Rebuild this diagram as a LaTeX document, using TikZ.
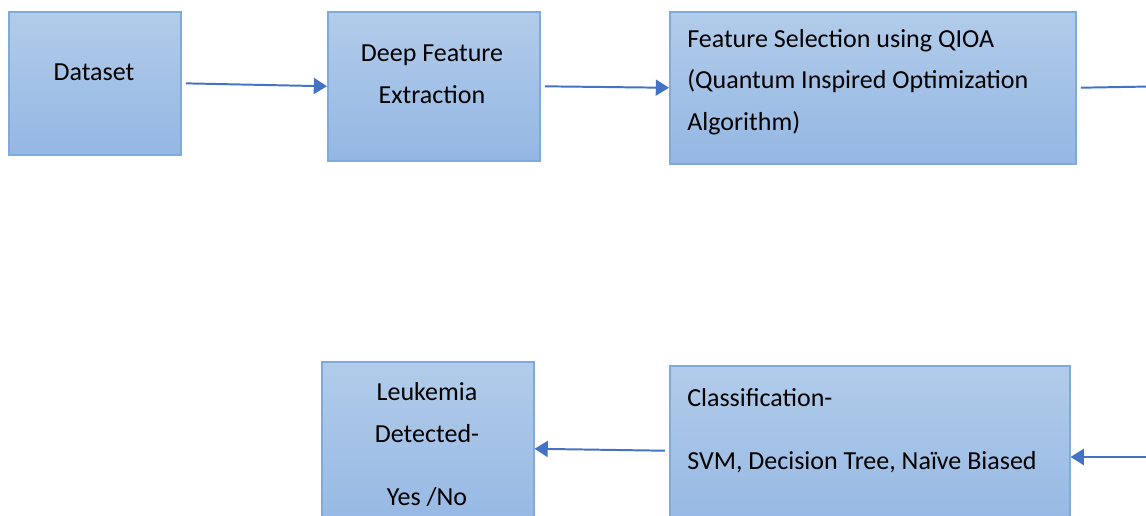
\documentclass[tikz,border=0pt]{standalone}
\usepackage{fontspec}
\setmainfont{Carlito}
\usetikzlibrary{arrows.meta,positioning}
\definecolor{boxtop}{HTML}{B2CCEA}
\definecolor{boxbot}{HTML}{94B7E3}
\definecolor{boxedge}{HTML}{7FAADF}
\definecolor{flowblue}{HTML}{4472C4}
\tikzset{
  stage/.style={draw=boxedge, line width=1.1pt, top color=boxtop, bottom color=boxbot, anchor=north west, inner sep=0pt},
  caption/.style={font=\fontsize{18.5}{29.5}\selectfont, inner sep=0pt, anchor=base},
  flow/.style={draw=flowblue, line width=1.4pt, -{Triangle[length=0.33cm,width=0.4cm]}, shorten <=3pt}
}
\begin{document}
\begin{tikzpicture}
\useasboundingbox (0,0) rectangle (28.65,-12.9);
\clip (0,0) rectangle (28.65,-12.9);
% stages
\node[stage, minimum width=4.3cm, minimum height=3.575cm] (dataset) at (0.2,-0.275) {};
\node[stage, minimum width=5.3cm, minimum height=3.725cm] (deep) at (8.175,-0.275) {};
\node[stage, minimum width=10.15cm, minimum height=3.8cm] (fsel) at (16.725,-0.275) {};
\node[stage, minimum width=5.3cm, minimum height=4.35cm] (leuk) at (8.025,-9.025) {};
\node[stage, minimum width=10cm, minimum height=4.25cm] (classif) at (16.725,-9.125) {};
% texts (base = last line)
\node[caption] (dataset-txt) at (2.35,-2.0) {Dataset};
\node[caption, align=center] (deep-txt) at (10.8,-2.575) {Deep Feature\\Extraction};
\node[caption, align=left, anchor=base west] (fsel-txt) at (17.175,-3.25) {Feature Selection using QIOA\\(Quantum Inspired Optimization\\Algorithm)};
\node[caption, align=center] (leuk-txt) at (10.675,-12.625) {Leukemia\\Detected-\\[15pt]Yes /No};
\node[caption, align=left, anchor=base west] (classif-txt) at (17.175,-11.725) {Classification-\\[15pt]SVM, Decision Tree, Naïve Biased};
% connectors
\coordinate (edge-top) at (29.5,-2.15);
\coordinate (edge-bot) at (29.5,-11.425);
\draw[flow] (dataset.east) -- (deep.west);
\draw[flow] (deep.east) -- (fsel.west);
\draw[flow, -] (fsel.east) -- (edge-top);
\draw[flow] (edge-bot) -- (edge-bot -| classif.east);
\draw[flow] (classif.west) -- (leuk.east);
\end{tikzpicture}
\end{document}
